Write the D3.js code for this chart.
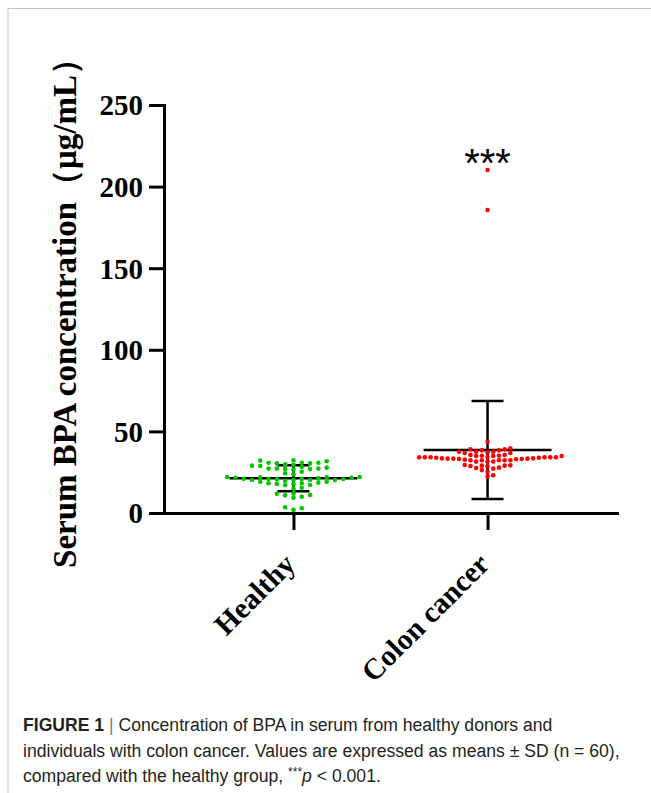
<!DOCTYPE html>
<html>
<head>
<meta charset="utf-8">
<script src="https://cdn.jsdelivr.net/npm/d3@7"></script>
<style>
  body { margin: 0; background: #fff; }
  svg { display: block; }
</style>
</head>
<body>
<script>
// values
const groups = ["Healthy", "Colon cancer"];
const healthy = [
  32.3, 32.1, 31.7,
  29.6, 29.0, 30.8, 29.8, 28.8, 30.4, 30.8, 30.8, 30.4,
  27.2, 26.9, 26.6, 27.2, 27.2, 26.9, 28.2, 27.8, 25.3,
  23.7, 24.3,
  20.6, 22.1, 19.8, 20.2, 21.2, 21.9, 19.2, 20.8, 20.2, 21.6, 18.6,
  20.8, 21.9, 19.2, 20.8, 21.6, 20.2, 21.0, 22.1, 20.2, 18.2,
  17.8, 14.9, 15.5, 17.2, 17.6, 17.2, 18.2,
  12.0, 11.8, 11.0, 10.8, 10.0, 9.4,
  1.9, 3.5, 2.9
];
const colon = [
  43.7,
  37.6, 37.6, 39.0, 39.0, 37.6, 38.4, 37.2, 38.4, 39.6, 36.8, 36.8,
  34.1, 34.1, 35.1, 32.3, 33.1, 34.1, 33.5, 33.3, 33.9, 31.5, 34.3,
  31.5, 34.1, 31.5, 33.9, 34.9, 32.3, 34.1, 33.3, 34.9, 32.3, 34.9,
  32.3, 33.5, 35.1, 32.3, 34.1, 35.5, 32.9, 33.1, 35.5, 32.7, 33.3,
  27.8, 29.0, 27.6, 27.2, 29.2, 28.6, 26.3, 28.8, 29.0, 29.4,
  25.3, 22.3, 23.1,
  210.2, 185.7
];
const means = [21.3, 38.6];
const sds = [7.9, 30.0];
const yTicks = [0, 50, 100, 150, 200, 250];
const colors = ["#00c800", "#ff0000"];
const sigLabel = "***";

const W = 651, H = 793;
const svg = d3.select("body").append("svg")
  .attr("width", W)
  .attr("height", H);

// thin grey frame of the figure panel
svg.append("path")
  .attr("d", "M8,793V8.5H651")
  .attr("fill", "none")
  .attr("stroke", "#c4c4c4")
  .attr("stroke-width", 1);

const mLeft = 164, mRight = 617, mTop = 105, mBottom = 513;

const y = d3.scaleLinear().domain([0, 250]).range([mBottom, mTop]);
const x = d3.scalePoint().domain(groups).range([mLeft, mRight]).padding(0.667);

const serif = "'Liberation Serif', 'Times New Roman', serif";

// y axis
const yAxis = svg.append("g")
  .attr("transform", `translate(${mLeft},0)`)
  .call(d3.axisLeft(y).tickValues(yTicks).tickSize(15).tickSizeOuter(0).tickPadding(6));
yAxis.select(".domain").attr("stroke-width", 3).attr("stroke-linecap", "square");
yAxis.selectAll(".tick line").attr("stroke-width", 3);
yAxis.selectAll(".tick text")
  .attr("font-family", serif)
  .attr("font-weight", "bold")
  .attr("font-size", 29)
  .attr("fill", "#000")
  .attr("dy", "0.34em");

// x axis
const xAxis = svg.append("g")
  .attr("transform", `translate(0,${mBottom})`)
  .call(d3.axisBottom(x).tickSize(17).tickSizeOuter(0));
xAxis.select(".domain").attr("stroke-width", 3).attr("stroke-linecap", "square");
xAxis.selectAll(".tick line").attr("stroke-width", 3);
xAxis.selectAll(".tick text")
  .attr("font-family", serif)
  .attr("font-weight", "bold")
  .attr("font-size", 29.5)
  .attr("fill", "#000")
  .attr("text-anchor", "end")
  .attr("y", 0)
  .attr("dy", 0)
  .attr("transform", "translate(3,53) rotate(-45)");

// y title
svg.append("text")
  .attr("transform", `translate(76,305) rotate(-90)`)
  .attr("text-anchor", "middle")
  .attr("font-family", serif)
  .attr("font-weight", "bold")
  .attr("font-size", 33)
  .attr("fill", "#000")
  .text("Serum BPA concentration（μg/mL）");

// error bars: mean line, SD whisker and caps
const meanHalf = 64, capHalf = 16;
const bars = svg.append("g").attr("stroke", "#000").attr("stroke-width", 2.5);
groups.forEach((g, i) => {
  const cx = x(g);
  bars.append("line")
    .attr("x1", cx).attr("x2", cx)
    .attr("y1", y(means[i] - sds[i])).attr("y2", y(means[i] + sds[i]));
  bars.append("line")
    .attr("x1", cx - meanHalf).attr("x2", cx + meanHalf)
    .attr("y1", y(means[i])).attr("y2", y(means[i]));
  [means[i] - sds[i], means[i] + sds[i]].forEach(v => {
    bars.append("line")
      .attr("x1", cx - capHalf).attr("x2", cx + capHalf)
      .attr("y1", y(v)).attr("y2", y(v));
  });
});

// simple column beeswarm: spread points sideways so they don't overlap,
// going to whichever side is emptier near that height (then overall)
function swarm(values, step, minDy) {
  const placed = [];
  const off = new Array(values.length);
  const free = (o, py) => !placed.some(p => Math.abs(p.o - o) < step * 0.5 && Math.abs(p.y - py) < minDy);
  const near = (py, s) => placed.filter(p => Math.abs(p.y - py) < minDy * 1.5 && Math.sign(p.o) === s).length;
  const all = s => placed.filter(p => Math.sign(p.o) === s).length;
  const order = d3.range(values.length).sort((a, b) => values[a] - values[b]);
  order.forEach(i => {
    const py = y(values[i]);
    for (let k = 0; k < 100; k++) {
      let o = null;
      if (k === 0) {
        if (free(0, py)) o = 0;
      } else {
        const r = free(k * step, py), l = free(-k * step, py);
        if (r && l) {
          const dn = near(py, 1) - near(py, -1);
          const goRight = dn !== 0 ? dn < 0 : all(1) <= all(-1);
          o = goRight ? k * step : -k * step;
        }
        else if (r) o = k * step;
        else if (l) o = -k * step;
      }
      if (o !== null) {
        placed.push({ o: o, y: py });
        off[i] = o;
        break;
      }
    }
  });
  return off;
}

const series = [healthy, colon];
const steps = [8.3, 5.7];
const minDys = [4.2, 4.4];
series.forEach((vals, i) => {
  const offs = swarm(vals, steps[i], minDys[i]);
  svg.append("g").selectAll("circle")
    .data(vals)
    .join("circle")
    .attr("cx", (d, j) => x(groups[i]) + offs[j])
    .attr("cy", d => y(d))
    .attr("r", 2.3)
    .attr("fill", colors[i]);
});

// significance mark
svg.append("text")
  .attr("x", x(groups[1]))
  .attr("y", y(means[1] + sds[1]) - 224)
  .attr("text-anchor", "middle")
  .attr("font-family", "'Liberation Sans', Arial, sans-serif")
  .attr("font-size", 40)
  .attr("fill", "#000")
  .text(sigLabel);

// caption
const sans = "'Liberation Sans', Arial, sans-serif";
const cap = svg.append("g")
  .attr("font-family", sans)
  .attr("font-size", 17.6)
  .attr("fill", "#231f20");
const l1 = cap.append("text").attr("x", 23).attr("y", 731);
l1.append("tspan").attr("font-weight", "bold").text("FIGURE 1");
l1.append("tspan").attr("fill", "#777").text(" | ");
l1.append("tspan").text("Concentration of BPA in serum from healthy donors and");
cap.append("text").attr("x", 23).attr("y", 757)
  .text("individuals with colon cancer. Values are expressed as means ± SD (n = 60),");
const l3 = cap.append("text").attr("x", 23).attr("y", 782);
l3.append("tspan").text("compared with the healthy group, ");
l3.append("tspan").attr("font-size", 12).attr("dy", -6).text("***");
l3.append("tspan").attr("font-style", "italic").attr("dy", 6).text("p");
l3.append("tspan").text(" < 0.001.");
</script>
</body>
</html>
